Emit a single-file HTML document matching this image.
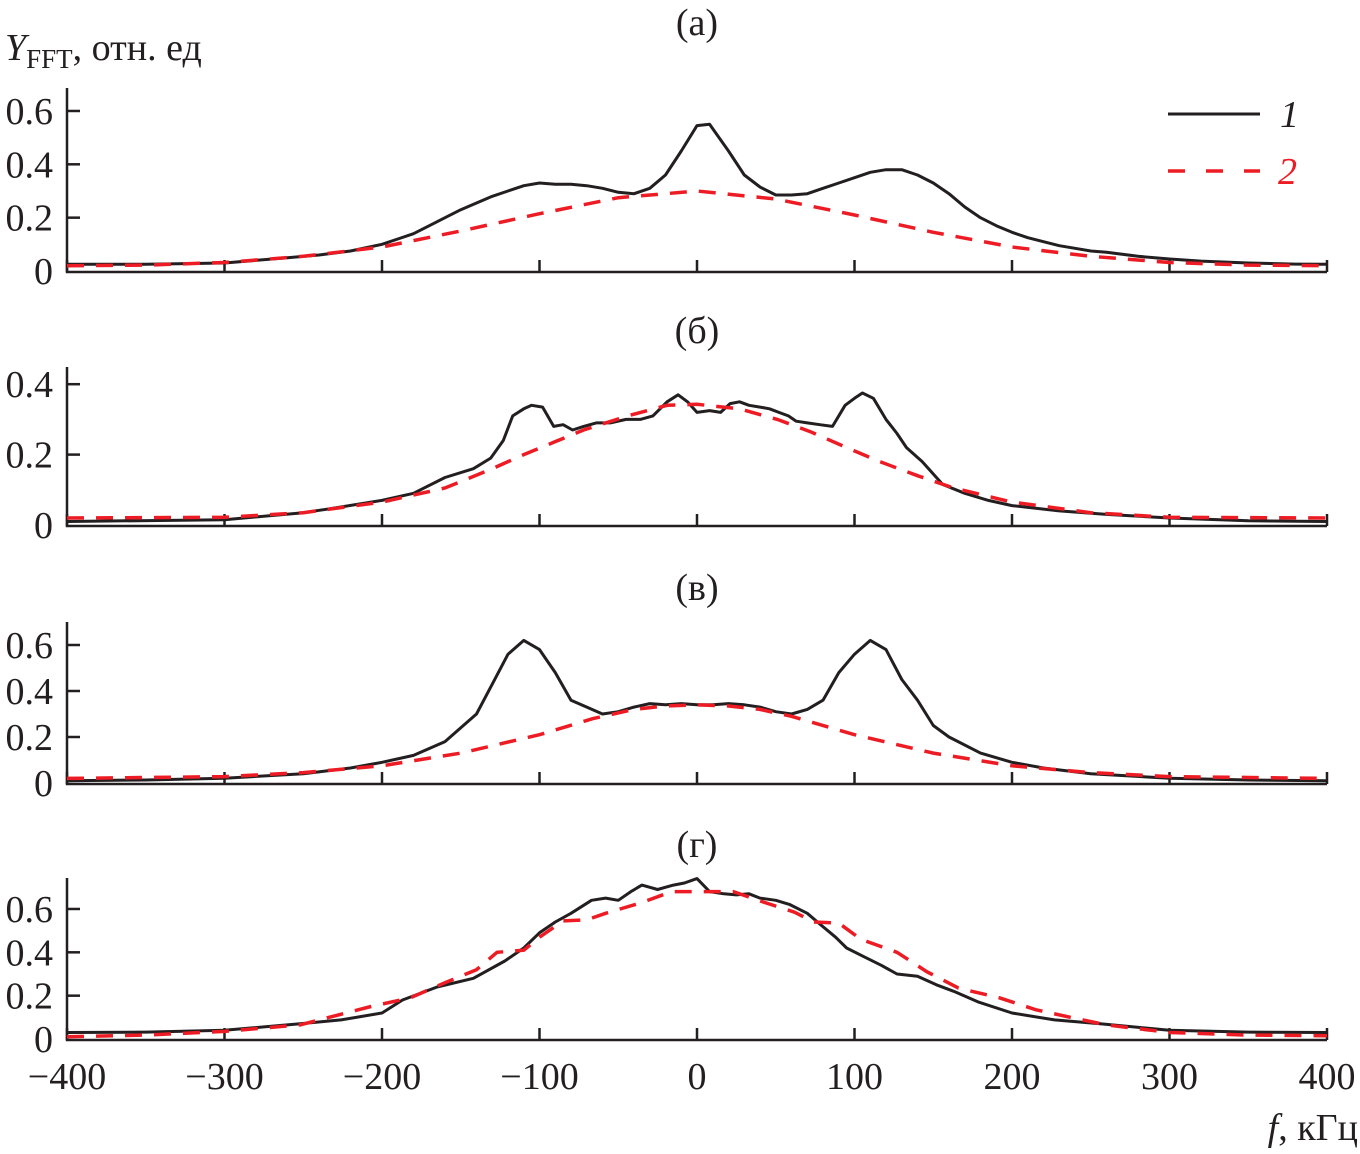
<!DOCTYPE html>
<html><head><meta charset="utf-8"><style>
body{margin:0;background:#fff}
svg text{font-family:"Liberation Serif",serif;fill:#231f20}
</style></head><body>
<svg id="chart" width="1360" height="1149" viewBox="0 0 1360 1149" xmlns="http://www.w3.org/2000/svg">
<text x="5" y="60" font-size="38"><tspan font-style="italic">Y</tspan><tspan font-size="27" dy="8">FFT</tspan><tspan dy="-8">, отн. ед</tspan></text>
<text x="1358" y="1140" font-size="38" text-anchor="end"><tspan font-style="italic">f</tspan>, кГц</text>
<g>
<line x1="1168" y1="114" x2="1260" y2="114" stroke="#231f20" stroke-width="3"/>
<text x="1280" y="127" font-size="38" font-style="italic">1</text>
<line x1="1168" y1="171" x2="1260" y2="171" stroke="#ed1c24" stroke-width="3.5" stroke-dasharray="17,21"/>
<text x="1278" y="184" font-size="38" font-style="italic" style="fill:#ed1c24">2</text>
</g>
</svg>
<script>
const xTicks = [-400,-300,-200,-100,0,100,200,300,400];
const xTickLabels = ['\u2212400','\u2212300','\u2212200','\u2212100','0','100','200','300','400'];
const aTicks = [0,0.2,0.4,0.6], aTickLabels = ['0','0.2','0.4','0.6'];
const bTicks = [0,0.2,0.4], bTickLabels = ['0','0.2','0.4'];
const cTicks = [0,0.2,0.4,0.6], cTickLabels = ['0','0.2','0.4','0.6'];
const dTicks = [0,0.2,0.4,0.6], dTickLabels = ['0','0.2','0.4','0.6'];

// Panel (a)
const aSolidX = [-400,-350,-300,-260,-240,-220,-200,-190,-180,-170,-160,-150,-140,-130,-120,-110,-100,-90,-80,-70,-60,-50,-40,-30,-20,-10,0,8,20,30,40,50,60,70,80,90,100,110,120,130,140,150,160,170,180,190,200,210,220,230,240,250,260,280,300,320,350,380,400];
const aSolidY = [0.025,0.025,0.03,0.05,0.06,0.075,0.1,0.12,0.14,0.17,0.2,0.23,0.255,0.28,0.3,0.32,0.33,0.325,0.325,0.32,0.31,0.295,0.29,0.31,0.36,0.45,0.545,0.55,0.45,0.36,0.315,0.285,0.285,0.29,0.31,0.33,0.35,0.37,0.38,0.38,0.36,0.33,0.29,0.24,0.2,0.17,0.145,0.125,0.11,0.095,0.085,0.075,0.07,0.055,0.045,0.037,0.03,0.026,0.025];
const aDashedX = [-400,-350,-300,-250,-200,-150,-100,-50,0,50,100,150,200,250,300,350,400];
const aDashedY = [0.02,0.022,0.032,0.055,0.09,0.15,0.215,0.275,0.3,0.27,0.21,0.145,0.09,0.055,0.032,0.022,0.02];
// Panel (б)
const bSolidX = [-400,-300,-250,-235,-200,-180,-160,-142,-131,-123,-117,-110,-105,-98,-91,-85,-79,-72,-64,-55,-45,-36,-28,-19,-12,-6,0,8,15,21,27,33,40,46,52,58,63,70,78,86,94,100,105,112,120,127,133,143,156,170,185,200,230,260,300,350,400];
const bSolidY = [0.01,0.015,0.035,0.045,0.07,0.09,0.135,0.16,0.19,0.24,0.31,0.33,0.34,0.335,0.28,0.285,0.27,0.28,0.29,0.29,0.3,0.3,0.31,0.35,0.37,0.35,0.32,0.325,0.32,0.345,0.35,0.34,0.335,0.33,0.32,0.31,0.295,0.29,0.285,0.28,0.34,0.36,0.375,0.36,0.3,0.26,0.22,0.18,0.115,0.09,0.07,0.055,0.04,0.03,0.02,0.012,0.01];
const bDashedX = [-400,-300,-250,-200,-160,-130,-110,-91,-72,-44,-19,0,27,51,72,95,116,140,163,200,250,300,400];
const bDashedY = [0.02,0.022,0.035,0.065,0.105,0.16,0.2,0.235,0.27,0.31,0.34,0.343,0.33,0.3,0.265,0.22,0.18,0.14,0.105,0.065,0.035,0.022,0.02];
// Panel (в)
const cSolidX = [-400,-350,-300,-250,-220,-200,-180,-160,-150,-140,-130,-120,-110,-100,-90,-80,-70,-60,-50,-40,-30,-20,-10,0,10,20,30,40,50,60,70,80,90,100,110,120,130,140,150,160,180,200,220,250,300,350,400];
const cSolidY = [0.01,0.013,0.021,0.04,0.065,0.09,0.12,0.18,0.24,0.3,0.43,0.56,0.62,0.58,0.48,0.36,0.33,0.3,0.31,0.33,0.345,0.34,0.345,0.34,0.34,0.345,0.34,0.33,0.31,0.3,0.32,0.36,0.48,0.56,0.62,0.58,0.45,0.36,0.25,0.2,0.13,0.09,0.065,0.04,0.021,0.013,0.01];
const cDashedX = [-400,-300,-250,-200,-150,-100,-66,-40,-20,0,20,40,60,100,150,200,250,300,400];
const cDashedY = [0.02,0.028,0.045,0.075,0.13,0.21,0.28,0.32,0.335,0.34,0.335,0.32,0.29,0.21,0.13,0.075,0.045,0.028,0.02];
// Panel (г)
const dSolidX = [-400,-350,-300,-252,-226,-200,-187,-165,-142,-122,-110,-100,-90,-80,-67,-58,-50,-42,-35,-25,-15,-8,0,8,17,25,33,40,50,59,70,78,88,95,106,117,127,140,152,163,179,200,227,256,300,350,400];
const dSolidY = [0.03,0.032,0.04,0.07,0.088,0.12,0.18,0.24,0.28,0.36,0.42,0.49,0.54,0.58,0.64,0.65,0.64,0.68,0.71,0.69,0.71,0.72,0.74,0.68,0.67,0.665,0.67,0.65,0.64,0.62,0.58,0.53,0.47,0.42,0.38,0.34,0.3,0.29,0.25,0.22,0.17,0.12,0.088,0.07,0.04,0.032,0.03];
const dDashedX = [-400,-350,-300,-252,-207,-182,-160,-140,-127,-110,-100,-85,-70,-58,-35,-16,4,23,43,62,74,90,104,127,146,166,192,215,237,260,300,350,400];
const dDashedY = [0.01,0.018,0.035,0.065,0.15,0.19,0.26,0.32,0.4,0.41,0.47,0.545,0.55,0.58,0.63,0.68,0.68,0.68,0.63,0.585,0.54,0.535,0.46,0.4,0.31,0.235,0.19,0.135,0.1,0.065,0.03,0.018,0.015];

const NS='http://www.w3.org/2000/svg';
const svg=document.getElementById('chart');
const X0=67, X1=1327;
function xs(v){return X0+(v+400)/800*(X1-X0);}
function mk(tag,attrs,parent){const e=document.createElementNS(NS,tag);for(const k in attrs)e.setAttribute(k,attrs[k]);(parent||svg).appendChild(e);return e;}
const panels=[
 {id:'a',title:'(а)',ty:35,y0:271,ypx:266.7,top:88,ticks:aTicks,labels:aTickLabels,sx:aSolidX,sy:aSolidY,dx:aDashedX,dy:aDashedY},
 {id:'b',title:'(б)',ty:343,y0:525,ypx:352,top:367,ticks:bTicks,labels:bTickLabels,sx:bSolidX,sy:bSolidY,dx:bDashedX,dy:bDashedY},
 {id:'c',title:'(в)',ty:600,y0:783,ypx:230,top:622,ticks:cTicks,labels:cTickLabels,sx:cSolidX,sy:cSolidY,dx:cDashedX,dy:cDashedY},
 {id:'d',title:'(г)',ty:857,y0:1039,ypx:216.7,top:878,ticks:dTicks,labels:dTickLabels,sx:dSolidX,sy:dSolidY,dx:dDashedX,dy:dDashedY}
];
panels.forEach((p,pi)=>{
 const g=mk('g',{});
 
 
 const ys=v=>p.y0-v*p.ypx;
 const t=mk('text',{x:697,y:p.ty,'font-size':38,'text-anchor':'middle'},g);t.textContent=p.title;
 
 
 const ax=mk('path',{d:`M${X0},${p.top}V${p.y0+1}H${X1}`,fill:'none',stroke:'#231f20','stroke-width':2.5},g);
 
 
 xTicks.forEach((v,i)=>{
  const tk=mk('line',{x1:xs(v),x2:xs(v),y1:p.y0+1,y2:p.y0-11,stroke:'#231f20','stroke-width':2.5},g);
  
  
  if(pi===3){const l=mk('text',{x:xs(v),y:1089,'font-size':38,'text-anchor':'middle'},g);l.textContent=xTickLabels[i];
   
   }
 });
 p.ticks.forEach((v,i)=>{
  if(v>0){const tk=mk('line',{x1:X0,x2:X0+13,y1:ys(v),y2:ys(v),stroke:'#231f20','stroke-width':2.5},g);
   
   }
  const l=mk('text',{x:53,y:ys(v)+13,'font-size':38,'text-anchor':'end'},g);l.textContent=p.labels[i];
  
  
 });
 const pts=(X,Y)=>X.map((x,i)=>xs(x).toFixed(1)+','+ys(Y[i]).toFixed(1)).join(' ');
 const s=mk('polyline',{points:pts(p.sx,p.sy),fill:'none',stroke:'#231f20','stroke-width':3,'stroke-linejoin':'round'},g);
 
 
 const d=mk('polyline',{points:pts(p.dx,p.dy),fill:'none',stroke:'#ed1c24','stroke-width':3.5,'stroke-dasharray':'17,12'},g);
 
 
});
</script>
</body></html>
